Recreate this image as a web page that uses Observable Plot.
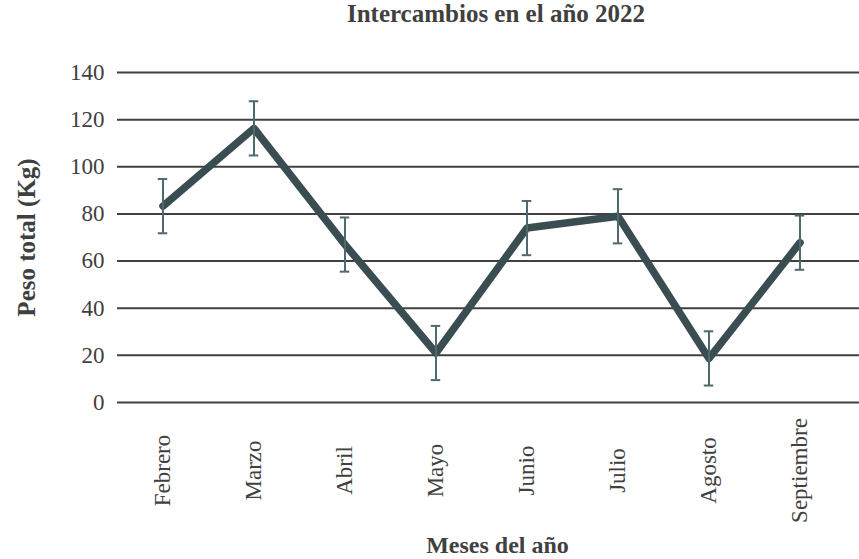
<!DOCTYPE html>
<html>
<head>
<meta charset="utf-8">
<script src="https://cdn.jsdelivr.net/npm/d3@7"></script>
<script src="https://cdn.jsdelivr.net/npm/@observablehq/plot@0.6"></script>
<style>
  html, body { margin: 0; padding: 0; background: #fff; }
  #title {
    width: 726px; padding-left: 133px; height: 46px; line-height: 46px;
    text-align: center; font: 700 25px "Liberation Serif", serif; color: #404040;
  }
  svg { display: block; overflow: visible; }
</style>
</head>
<body>
<div id="title">Intercambios en el año 2022</div>
<div id="chart"></div>
<script>
const months = ["Febrero", "Marzo", "Abril", "Mayo", "Junio", "Julio", "Agosto", "Septiembre"];
const values = [83.3, 116.3, 67, 21, 74, 79, 18.7, 67.8];
const errors = [11.5, 11.5, 11.5, 11.5, 11.5, 11.5, 11.5, 11.5];
const yTicks = [0, 20, 40, 60, 80, 100, 120, 140];
const yLabel = "Peso total (Kg)";
const xLabel = "Meses del año";

const data = months.map((m, i) => ({month: m, value: values[i], lo: values[i] - errors[i], hi: values[i] + errors[i]}));

const lineColor = "#3a4e51";
const errColor = "#4f6a6f";
const textColor = "#404040";
const capInset = 40.75;

const chart = Plot.plot({
  width: 859,
  height: 513,
  marginTop: 26,
  marginBottom: 157,
  marginLeft: 117,
  marginRight: 0,
  style: {fontFamily: "'Liberation Serif', serif", fontSize: "23px", color: textColor, background: "#fff"},
  x: {type: "band", domain: months, padding: 0, insetLeft: -2, insetRight: 12, axis: null},
  y: {domain: [0, 140], axis: null},
  marks: [
    Plot.gridY(yTicks, {stroke: "#404040", strokeOpacity: 1, strokeWidth: 2}),
    Plot.axisY(yTicks, {tickSize: 0, tickPadding: 13, label: null, fill: textColor, fontSize: 23}),
    Plot.line(data, {x: "month", y: "value", stroke: lineColor, strokeWidth: 7.5, strokeLinejoin: "round", strokeLinecap: "round"}),
    Plot.ruleX(data, {x: "month", y1: "lo", y2: "hi", stroke: errColor, strokeWidth: 2}),
    Plot.tickY(data, {x: "month", y: "lo", stroke: errColor, strokeWidth: 2, insetLeft: capInset, insetRight: capInset}),
    Plot.tickY(data, {x: "month", y: "hi", stroke: errColor, strokeWidth: 2, insetLeft: capInset, insetRight: capInset}),
    Plot.text(months, {x: d => d, frameAnchor: "bottom", rotate: -90, dy: 68, textAnchor: "middle", lineAnchor: "middle", fill: textColor, fontSize: 23}),
    Plot.text([xLabel], {frameAnchor: "bottom", dy: 143, dx: 9, textAnchor: "middle", lineAnchor: "middle", fill: textColor, fontSize: 24, fontWeight: "bold"}),
    Plot.text([yLabel], {frameAnchor: "left", dx: -91, rotate: -90, textAnchor: "middle", lineAnchor: "middle", fill: textColor, fontSize: 25, fontWeight: "bold"})
  ]
});
document.getElementById("chart").appendChild(chart);
</script>
</body>
</html>
